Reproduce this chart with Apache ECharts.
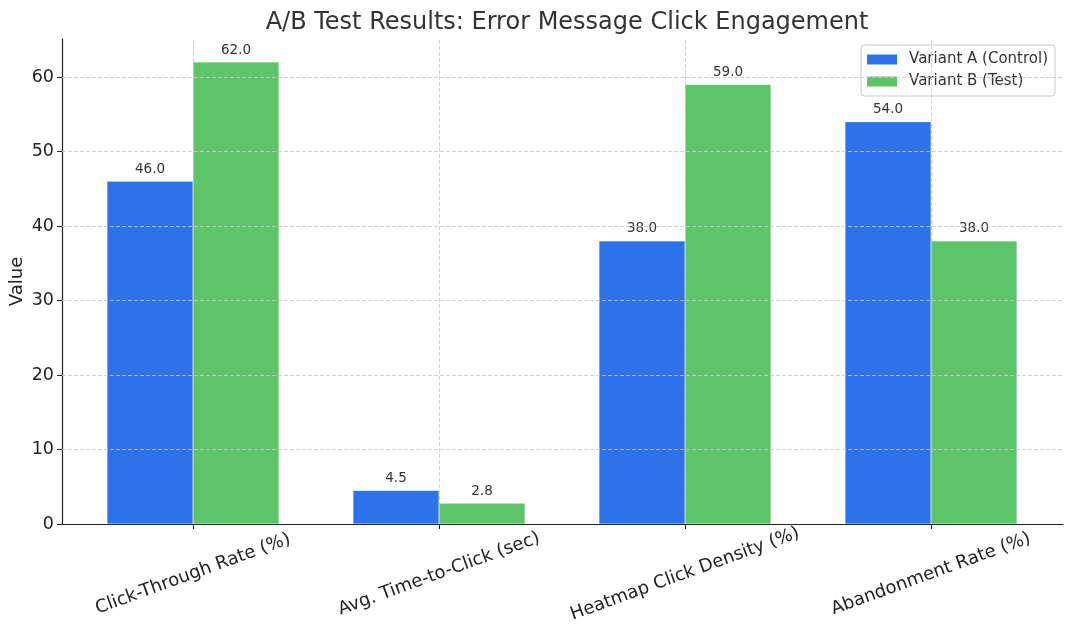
<!DOCTYPE html>
<html>
<head>
<meta charset="utf-8">
<script src="https://cdn.jsdelivr.net/npm/echarts@6/dist/echarts.min.js"></script>
<style>
html,body{margin:0;padding:0;background:#fff;}
#chart{width:1072px;height:638px;}
</style>
</head>
<body>
<div id="chart"></div>
<script>
const categories = ['Click-Through Rate (%)', 'Avg. Time-to-Click (sec)', 'Heatmap Click Density (%)', 'Abandonment Rate (%)'];
const variantA = [46.0, 4.5, 38.0, 54.0];
const variantB = [62.0, 2.8, 59.0, 38.0];
const seriesNames = ['Variant A (Control)', 'Variant B (Test)'];
const yTicks = [0, 10, 20, 30, 40, 50, 60];
const yMax = 65.1;

const FONT = 'DejaVu Sans';
const chart = echarts.init(document.getElementById('chart'), null, {renderer: 'canvas'});
const gridLine = {color: '#c8c8c8', type: [4, 2], width: 0.8};

const option = {
  animation: false,
  textStyle: {fontFamily: FONT},
  title: {
    text: 'A/B Test Results: Error Message Click Engagement',
    left: 562, top: 6, textAlign: 'center',
    textStyle: {fontFamily: FONT, fontSize: 24, fontWeight: 'normal', color: '#333'}
  },
  legend: {
    data: seriesNames,
    orient: 'vertical',
    right: 17, top: 45,
    icon: 'rect',
    itemWidth: 30, itemHeight: 10, itemGap: 7,
    padding: [7, 7, 7, 6],
    borderColor: '#cccccc', borderWidth: 1, borderRadius: 3,
    backgroundColor: '#ffffff',
    textStyle: {fontFamily: FONT, fontSize: 15, color: '#333', padding: [0, 0, 0, 7]},
    itemStyle: {borderWidth: 0}
  },
  grid: [
    {left: 62, right: 9, top: 39, bottom: 114, containLabel: false, outerBoundsMode: 'none'},
    {left: 70, right: 18, top: 39, bottom: 114, containLabel: false, outerBoundsMode: 'none'}
  ],
  xAxis: [
    {type: 'value', gridIndex: 0, min: 0, max: 1,
     axisLine: {show: true, onZero: false, lineStyle: {color: '#222', width: 1.2}},
     axisTick: {show: false}, axisLabel: {show: false}, splitLine: {show: false}},
    {type: 'category', gridIndex: 1, data: categories,
     axisLine: {show: false},
     axisTick: {show: true, alignWithLabel: true, length: 5, lineStyle: {color: '#222', width: 1}},
     axisLabel: {rotate: 20, align: 'center', verticalAlign: 'middle', margin: 50, interval: 0,
       fontFamily: FONT, fontSize: 18, color: '#222'},
     splitLine: {show: false}}
  ],
  yAxis: [
    {type: 'value', gridIndex: 0, min: 0, max: yMax, interval: 10,
     name: 'Value', nameLocation: 'middle', nameGap: 36, nameMoveOverlap: false,
     nameTextStyle: {fontFamily: FONT, fontSize: 18, color: '#222'},
     axisLine: {show: true, lineStyle: {color: '#222', width: 1.2}},
     axisTick: {show: true, length: 5, lineStyle: {color: '#222'}, customValues: yTicks},
     axisLabel: {fontFamily: FONT, fontSize: 17.5, color: '#222', margin: 8, customValues: yTicks,
       formatter: v => (yTicks.indexOf(v) >= 0 ? String(v) : '')},
     splitLine: {show: false}},
    {type: 'value', gridIndex: 1, min: 0, max: yMax,
     axisLine: {show: false}, axisTick: {show: false}, axisLabel: {show: false}, splitLine: {show: false}}
  ],
  series: [
    {
      type: 'line', name: 'hgrid', xAxisIndex: 0, yAxisIndex: 0, data: [], z: 0, silent: true,
      markLine: {silent: true, symbol: 'none', label: {show: false}, lineStyle: gridLine,
        data: yTicks.filter(v => v > 0).map(v => ({yAxis: v}))}
    },
    {
      type: 'line', name: 'vgrid', xAxisIndex: 1, yAxisIndex: 1, data: [], z: 0, silent: true,
      markLine: {silent: true, symbol: 'none', label: {show: false}, lineStyle: gridLine,
        data: categories.map(c => ({xAxis: c}))}
    },
    {
      type: 'bar', name: seriesNames[0], xAxisIndex: 1, yAxisIndex: 1, data: variantA,
      barWidth: 86, barGap: '0%', z: 2,
      itemStyle: {color: '#2e72ea', borderColor: 'rgba(255,255,255,0.35)', borderWidth: 0.5},
      label: {show: true, position: 'top', distance: 5, fontFamily: FONT, fontSize: 13.5, color: '#333',
        formatter: p => p.value.toFixed(1)}
    },
    {
      type: 'bar', name: seriesNames[1], xAxisIndex: 1, yAxisIndex: 1, data: variantB,
      barWidth: 86, barGap: '0%', z: 2,
      itemStyle: {color: '#5ec46a', borderColor: 'rgba(255,255,255,0.35)', borderWidth: 0.5},
      label: {show: true, position: 'top', distance: 5, fontFamily: FONT, fontSize: 13.5, color: '#333',
        formatter: p => p.value.toFixed(1)}
    }
  ]
};
chart.setOption(option);
</script>
</body>
</html>
